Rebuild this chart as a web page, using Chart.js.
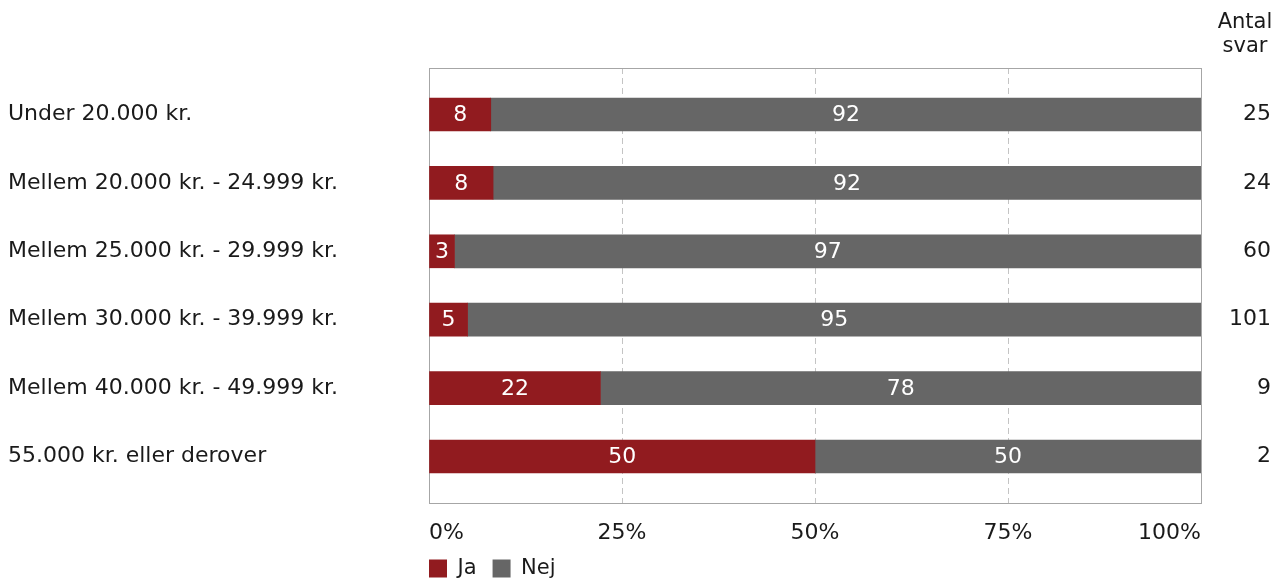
<!DOCTYPE html>
<html><head><meta charset="utf-8">
<script src="https://cdn.jsdelivr.net/npm/chart.js@4"></script>
<style>html,body{margin:0;padding:0;background:#fff}#wrap{width:1276px;height:578px}</style>
</head><body><div id="wrap"><canvas id="c"></canvas></div>
<script>
const categories = ["Under 20.000 kr.", "Mellem 20.000 kr. - 24.999 kr.", "Mellem 25.000 kr. - 29.999 kr.", "Mellem 30.000 kr. - 39.999 kr.", "Mellem 40.000 kr. - 49.999 kr.", "55.000 kr. eller derover"];
const jaValues = [8, 8.3, 3.3, 5.0, 22.2, 50];
const nejValues = [92, 91.7, 96.7, 95.0, 77.8, 50];
const counts = [25, 24, 60, 101, 9, 2];
const xTicks = [0, 25, 50, 75, 100];
const seriesNames = ["Ja", "Nej"];
const countTitle = ["Antal", "svar"];

const FONT = "'DejaVu Sans', Verdana, sans-serif";
const FS = 22;
const TXT = '#1a1a1a';
Chart.defaults.font.family = FONT;
Chart.defaults.font.size = FS;
Chart.defaults.color = TXT;

const frame = {
  id: 'frame',
  afterLayout(chart) {
    const lg = chart.legend;
    if (lg) {
      const h = lg.bottom - lg.top;
      lg.left -= 16; lg.right -= 16;
      lg.top = 542; lg.bottom = 542 + h;
    }
  },
  beforeDatasetsDraw(chart) {
    const a = chart.chartArea, ctx = chart.ctx;
    ctx.save();
    ctx.strokeStyle = '#a6a6a6';
    ctx.lineWidth = 1;
    ctx.strokeRect(Math.round(a.left) + 0.5, Math.round(a.top) + 0.5, Math.round(a.right - a.left), Math.round(a.bottom - a.top));
    ctx.restore();
  },
  afterDatasetsDraw(chart) {
    const ctx = chart.ctx;
    ctx.save();
    ctx.fillStyle = '#fff';
    ctx.font = FS + 'px ' + FONT;
    ctx.textAlign = 'center';
    ctx.textBaseline = 'middle';
    chart.data.datasets.forEach((ds, di) => {
      const meta = chart.getDatasetMeta(di);
      meta.data.forEach((bar, i) => {
        const v = ds.data[i].x;
        ctx.fillText(String(Math.round(v)), (bar.x + bar.base) / 2, bar.y + 1);
      });
    });
    ctx.restore();
  },
  afterDraw(chart) {
    const ctx = chart.ctx;
    const y2 = chart.scales.y2;
    const cx = y2.right - 26;
    ctx.save();
    ctx.fillStyle = TXT;
    ctx.font = '21px ' + FONT;
    ctx.textAlign = 'center';
    ctx.textBaseline = 'middle';
    countTitle.forEach((t, i) => ctx.fillText(t, cx, 23 + i * 24));
    ctx.restore();
  }
};

new Chart(document.getElementById('c'), {
  type: 'bar',
  data: {
    datasets: [
      { label: seriesNames[0], data: categories.map((c, i) => ({ x: jaValues[i], y: i })), backgroundColor: '#911b1f', barThickness: 33 },
      { label: seriesNames[1], data: categories.map((c, i) => ({ x: nejValues[i], y: i })), backgroundColor: '#666666', barThickness: 33 }
    ]
  },
  plugins: [frame],
  options: {
    indexAxis: 'y',
    responsive: true,
    maintainAspectRatio: false,
    animation: false,
    layout: { padding: { top: 68, left: 8, right: 5, bottom: -14 } },
    plugins: {
      tooltip: { enabled: false },
      legend: {
        position: 'bottom',
        align: 'start',
        fullSize: false,
        labels: { boxWidth: 18, boxHeight: 18, padding: 16, font: { size: 21 }, color: TXT }
      }
    },
    scales: {
      x: {
        type: 'linear', stacked: true, min: 0, max: 100,
        afterBuildTicks(s) { s.ticks = xTicks.map(v => ({ value: v })); },
        ticks: { callback: v => v + '%', padding: 17, color: TXT, maxRotation: 0, align: 'inner' },
        grid: {
          drawTicks: false,
          color: c => (c.tick && (c.tick.value === 0 || c.tick.value === 100)) ? 'rgba(0,0,0,0)' : '#c4c4c4'
        },
        border: { display: false, dash: [6, 4] },
        afterFit(s) { s.height = 42; }
      },
      y: {
        type: 'linear', stacked: true, reverse: true, offset: false, min: -0.68, max: 5.68, position: 'left',
        afterBuildTicks(s) { s.ticks = categories.map((c, i) => ({ value: i })); },
        ticks: { callback: v => categories[v], crossAlign: 'far', color: TXT, padding: 10 },
        grid: { display: false, offset: false },
        border: { display: false },
        afterFit(s) { s.width = 421; }
      },
      y2: {
        type: 'linear', reverse: true, offset: false, min: -0.68, max: 5.68, position: 'right',
        afterBuildTicks(s) { s.ticks = counts.map((c, i) => ({ value: i })); },
        ticks: { callback: v => String(counts[v]), crossAlign: 'far', color: TXT, padding: 10 },
        grid: { display: false, offset: false },
        border: { display: false },
        afterFit(s) { s.width = 70; }
      }
    }
  }
});
</script></body></html>
